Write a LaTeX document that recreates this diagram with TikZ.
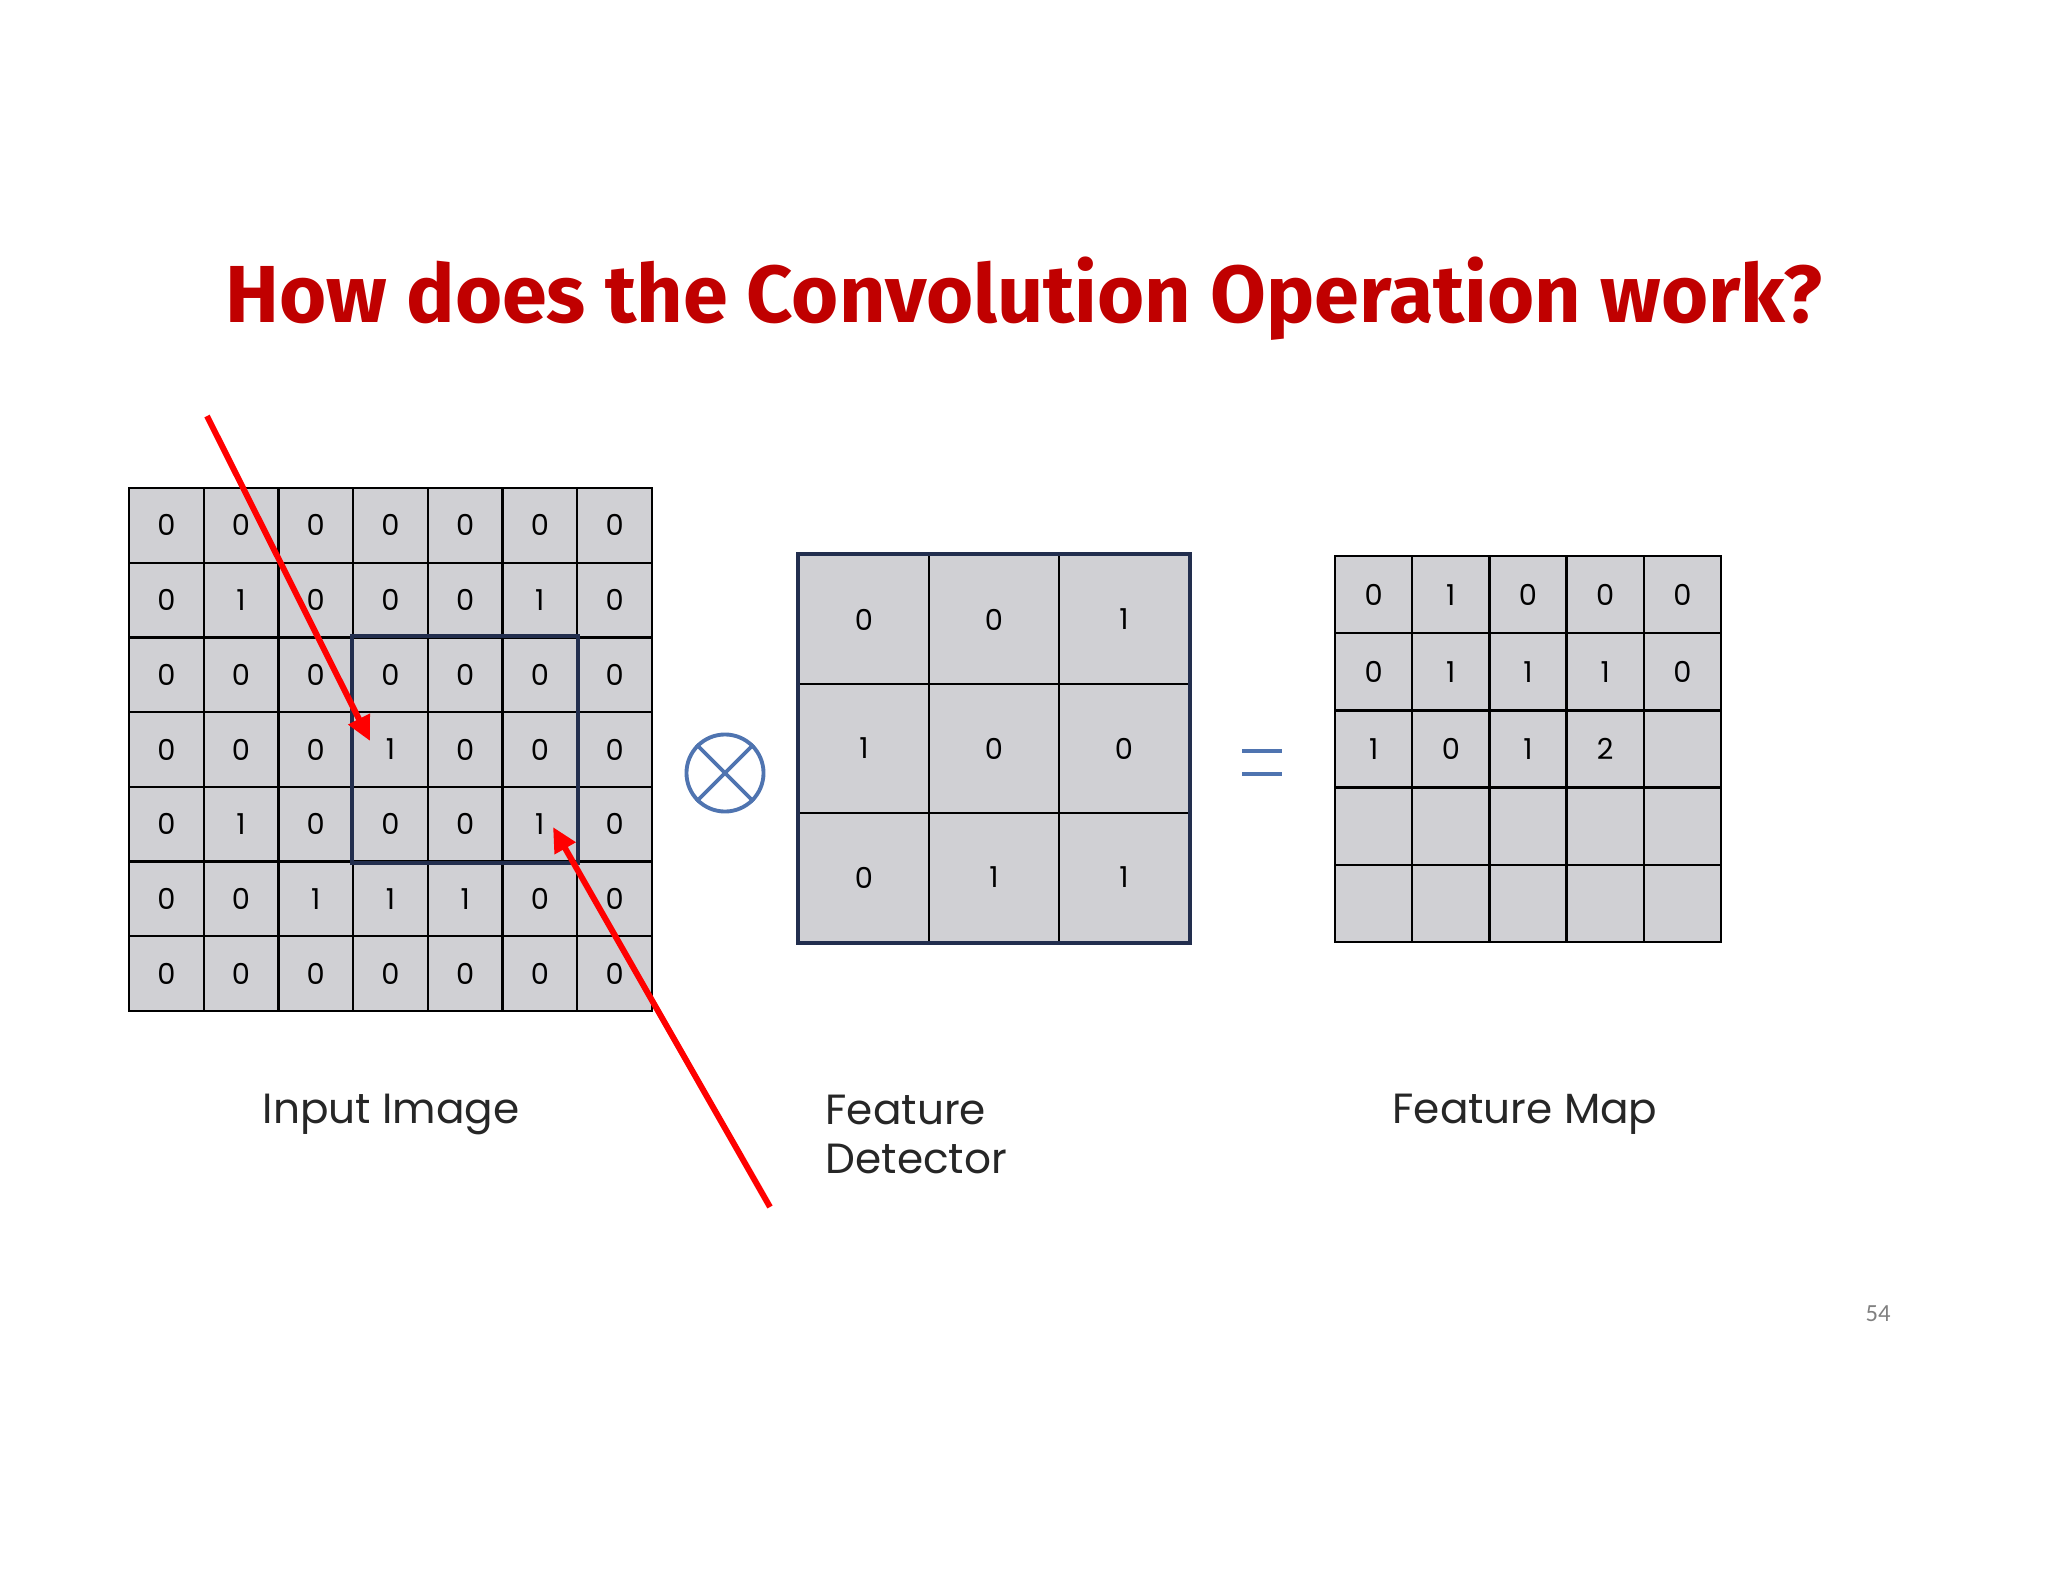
\documentclass[tikz,border=0pt]{standalone}
\usepackage{fontspec}
\setmainfont{Poppins}
\newfontfamily\titlefont{Fira Sans}
\newfontfamily\pagefont{Carlito}
\usetikzlibrary{positioning, arrows.meta, calc}
\definecolor{cT}{RGB}{192,0,0}
\definecolor{cA}{RGB}{255,0,0}
\definecolor{cG}{RGB}{208,208,212}
\definecolor{cN}{RGB}{34,46,78}
\definecolor{cB}{RGB}{79,116,176}

\tikzset{
  cellbase/.style={draw=black, fill=cG, line width=0.65pt, inner sep=0pt, font=\fontsize{8.2}{8}\selectfont},
  incell/.style={cellbase, minimum size=0.747cm},
  fdcell/.style={cellbase, minimum width=1.30cm, minimum height=1.29cm},
  fmcell/.style={cellbase, minimum size=0.772cm},
  navybox/.style={draw=cN, line width=1.1pt},
  opsym/.style={draw=cB, line width=1.1pt},
  redarrow/.style={draw=cA, line width=1.7pt, -{Triangle[length=7pt,width=6.5pt]}},
  label/.style={font=\fontsize{12}{14}\selectfont, text=black!85, inner sep=0pt}
}

\begin{document}
\begin{tikzpicture}[x=0.01cm, y=-0.01cm]
    \useasboundingbox (0,0) rectangle (2048,1582);

    % Title
    \node[anchor=base, inner sep=0pt, text=cT, font=\titlefont\bfseries\fontsize{23}{28}\selectfont] (title) at (1024,322) {How\ does\ the\ Convolution\ Operation\ work?};

    % Input image 7x7
    \foreach \row [count=\r from 0] in {{0,0,0,0,0,0,0},{0,1,0,0,0,1,0},{0,0,0,0,0,0,0},{0,0,0,1,0,0,0},{0,1,0,0,0,1,0},{0,0,1,1,1,0,0},{0,0,0,0,0,0,0}} {
        \foreach \v [count=\c from 0] in \row {
            \node[incell] (in-\r-\c) at ({166.35+74.7*\c},{525.35+74.7*\r}) {\v};
        }
    }
    % Receptive field
    \draw[navybox] (in-2-3.north west) rectangle (in-4-5.south east);

    % Feature detector 3x3
    \foreach \row [count=\r from 0] in {{0,0,1},{1,0,0},{0,1,1}} {
        \foreach \v [count=\c from 0] in \row {
            \node[fdcell] (fd-\r-\c) at ({864+130*\c},{619.5+129*\r}) {\v};
        }
    }
    \draw[navybox, line width=1.3pt] (fd-0-0.north west) rectangle (fd-2-2.south east);

    % Feature map 5x5
    \foreach \row [count=\r from 0] in {{0,1,0,0,0},{0,1,1,1,0},{1,0,1,2,{}},{{},{},{},{},{}},{{},{},{},{},{}}} {
        \foreach \v [count=\c from 0] in \row {
            \node[fmcell] (fm-\r-\c) at ({1373.6+77.2*\c},{594.6+77.2*\r}) {\v};
        }
    }

    % Operators
    \node[opsym, circle, minimum size=0.77cm, inner sep=0pt] (op) at (725,773) {};
    \draw[opsym] (op.north west) -- (op.south east);
    \draw[opsym] (op.north east) -- (op.south west);
    \coordinate (eq) at (1262,762);
    \draw[cB, line width=1.4pt] ($(eq)+(-20,-11)$) -- ($(eq)+(20,-11)$);
    \draw[cB, line width=1.4pt] ($(eq)+(-20,12)$) -- ($(eq)+(20,12)$);

    % Labels
    \node[label, anchor=base] (lbl-in) at (391,1123) {Input Image};
    \node[label, anchor=base west, align=left] (lbl-fd) at (825,1173) {Feature\\[-0.3pt]Detector};
    \node[label, anchor=base] (lbl-fm) at (1525,1123) {Feature Map};

    % Red arrows
    \coordinate (a1s) at (207,416);
    \coordinate (a1e) at (370,741);
    \coordinate (a2s) at (770,1207);
    \coordinate (a2e) at (553,827);
    \draw[redarrow] (a1s) -- (a1e);
    \draw[redarrow] (a2s) -- (a2e);

    % Page number
    \node[font=\pagefont\fontsize{7}{8}\selectfont, text=black!50, inner sep=0pt] (pnum) at (1878,1314) {54};
\end{tikzpicture}
\end{document}
